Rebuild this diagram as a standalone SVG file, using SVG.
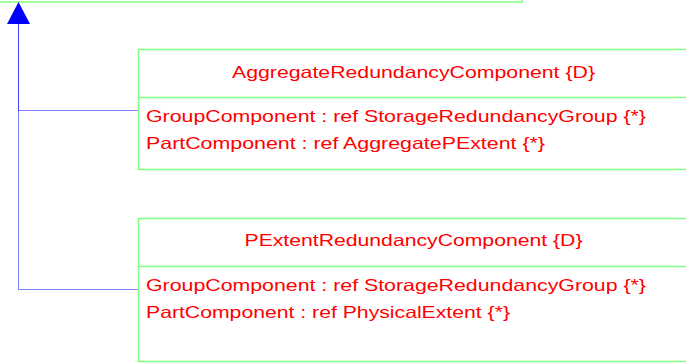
<svg xmlns="http://www.w3.org/2000/svg" width="686" height="363" viewBox="0 0 686 363">
<style>
.box{fill:none;stroke:#80ff80;stroke-width:1.5}
.t{font-family:"Liberation Sans",Arial,sans-serif;font-size:16.5px;fill:#ff0000}
.c{fill:none;stroke:#0000ff;stroke-opacity:0.5;stroke-width:1}
</style>
<g id="top-class">
<polyline class="box" points="-2,2 522,2 522,-2"/>
</g>
<g id="connectors">
<polyline class="c" points="138,110.5 18.5,110.5 18.5,24"/>
<polyline class="c" points="138,289.5 18.5,289.5 18.5,24"/>
<polygon points="18.5,2 7,24 30,24" fill="#0000ff"/>
</g>
<g id="AggregateRedundancyComponent">
<rect class="box" x="138.5" y="49.5" width="560" height="120"/>
<line class="box" x1="138.5" y1="97.5" x2="700" y2="97.5"/>
<text class="t" x="232" y="78" textLength="363" lengthAdjust="spacingAndGlyphs">AggregateRedundancyComponent {D}</text>
<text class="t" x="146" y="122" textLength="500" lengthAdjust="spacingAndGlyphs">GroupComponent : ref StorageRedundancyGroup {*}</text>
<text class="t" x="146" y="149" textLength="399" lengthAdjust="spacingAndGlyphs">PartComponent : ref AggregatePExtent {*}</text>
</g>
<g id="PExtentRedundancyComponent">
<rect class="box" x="138.5" y="218.5" width="560" height="143"/>
<line class="box" x1="138.5" y1="266.5" x2="700" y2="266.5"/>
<text class="t" x="244.5" y="245.5" textLength="338" lengthAdjust="spacingAndGlyphs">PExtentRedundancyComponent {D}</text>
<text class="t" x="146" y="291" textLength="500" lengthAdjust="spacingAndGlyphs">GroupComponent : ref StorageRedundancyGroup {*}</text>
<text class="t" x="146" y="318" textLength="364" lengthAdjust="spacingAndGlyphs">PartComponent : ref PhysicalExtent {*}</text>
</g>
</svg>
